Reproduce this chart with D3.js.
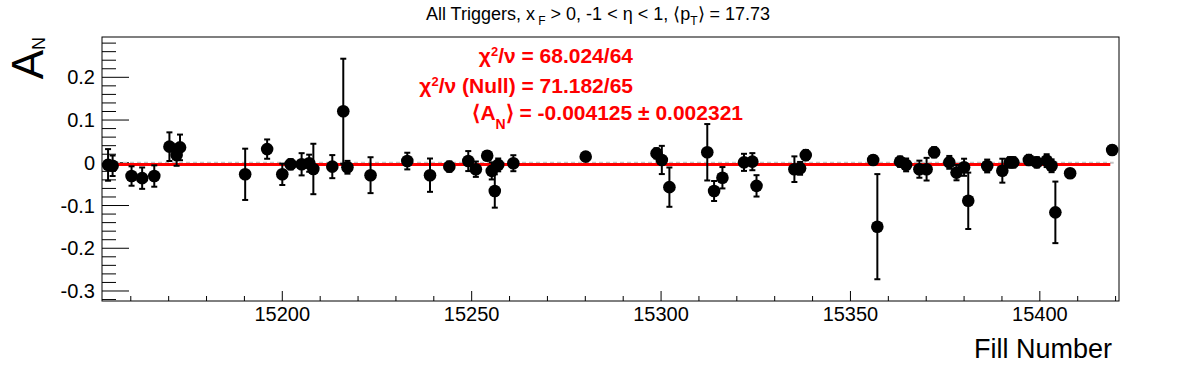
<!DOCTYPE html>
<html>
<head>
<meta charset="utf-8">
<script src="https://cdn.jsdelivr.net/npm/d3@7"></script>
<style>
  body { margin: 0; background: #fff; }
  text { font-family: "Liberation Sans", Arial, Helvetica, sans-serif; }
</style>
</head>
<body>
<div id="chart-area"></div>
<script>

// fill numbers, asymmetry values and their errors
var fills = [15154, 15155.2, 15160.2, 15163, 15166.2, 15170.2, 15172.1, 15173, 15190.2, 15196,
	15200, 15202.2, 15205.1, 15207.1, 15208.2, 15213.2, 15216.1, 15217.2, 15223.3, 15233,
	15239, 15244.1, 15249.1, 15251.1, 15254.1, 15255.3, 15256.1, 15257, 15261, 15280.1,
	15298.8, 15300.2, 15302.2, 15312.2, 15314, 15316.2, 15321.9, 15324.1, 15325.2, 15335.2,
	15336.7, 15338.2, 15356, 15357.1, 15363.1, 15364.7, 15368.2, 15370.1, 15372.1, 15376.1,
	15378, 15380, 15381.1, 15386.1, 15390.1, 15392.1, 15393, 15397.1, 15399.2, 15401.8,
	15403.1, 15404.1, 15408, 15419.1];

var asym = [-0.005, -0.007, -0.031, -0.036, -0.031, 0.0377, 0.018, 0.036, -0.027, 0.032,
	-0.027, -0.0035, -0.0035, -0.001, -0.0145, -0.009, 0.1205, -0.0105, -0.029, 0.004,
	-0.029, -0.009, 0.004, -0.015, 0.0166, -0.019, -0.066, -0.005, -0.001, 0.0143,
	0.022, 0.0066, -0.057, 0.0246, -0.066, -0.035, 0.001, 0.0026, -0.054, -0.015,
	-0.013, 0.018, 0.0066, -0.1495, 0.0026, -0.005, -0.015, -0.015, 0.0246, 0.001,
	-0.023, -0.0105, -0.089, -0.0075, -0.0185, 0.001, 0.001, 0.0066, 0.001, 0.005,
	-0.007, -0.116, -0.0246, 0.030];

var asymErr = [0.037, 0.024, 0.0227, 0.025, 0.025, 0.0335, 0.025, 0.03, 0.06, 0.0226,
	0.025, 0.012, 0.026, 0.02, 0.059, 0.027, 0.123, 0.015, 0.042, 0.0195,
	0.039, 0.012, 0.0234, 0.018, 0.01, 0.02, 0.039, 0.015, 0.0187, 0.01,
	0.012, 0.033, 0.046, 0.066, 0.0234, 0.025, 0.02, 0.02, 0.025, 0.03,
	0.015, 0.012, 0.01, 0.123, 0.012, 0.015, 0.02, 0.0265, 0.012, 0.015,
	0.018, 0.02, 0.066, 0.015, 0.028, 0.012, 0.012, 0.012, 0.012, 0.015,
	0.015, 0.072, 0.01, 0.01];

var xTicks = [15200, 15250, 15300, 15350, 15400];
var yTicks = [-0.3, -0.2, -0.1, 0, 0.1, 0.2];
var xDomain = [15152.4, 15420.9];
var yDomain = [-0.3234, 0.2943];

// constant fit
var fitValue = -0.004125;
var fitRange = [15155, 15418.6];

var data = fills.map(function(f, i) {
	return {fill: f, a: asym[i], err: asymErr[i]};
});

var margin = {left:102, right:77, top:37, bottom:71};

var width = 1196 - margin.left - margin.right,
	height = 372 - margin.top - margin.bottom;

var svg = d3.select("#chart-area")
	.append("svg")
		.attr("width", 1196)
		.attr("height", 372);

var g = svg.append("g")
	.attr("transform", "translate(" + margin.left + "," + margin.top + ")");

var x = d3.scaleLinear()
	.domain(xDomain)
	.range([0, width]);

var y = d3.scaleLinear()
	.domain(yDomain)
	.range([height, 0]);

// frame
g.append("rect")
	.attr("width", width)
	.attr("height", height)
	.attr("fill", "none")
	.attr("stroke", "#000")
	.attr("stroke-width", 1);

// minor ticks
var xMinor = d3.range(15160, 15421, 10);
var yMinor = d3.range(-32, 29, 2).map(function(v){ return v / 100; });

g.selectAll(".xminor")
	.data(xMinor)
	.enter()
	.append("line")
		.attr("x1", function(d){ return x(d); })
		.attr("x2", function(d){ return x(d); })
		.attr("y1", height)
		.attr("y2", function(d){ return xTicks.indexOf(d) >= 0 ? height - 10 : height - 5; })
		.attr("stroke", "#000");

g.selectAll(".yminor")
	.data(yMinor.filter(function(d){ return d >= yDomain[0] && d <= yDomain[1]; }))
	.enter()
	.append("line")
		.attr("x1", 0)
		.attr("x2", function(d){
			var major = yTicks.some(function(t){ return Math.abs(t - d) < 1e-9; });
			return major ? 27 : 14;
		})
		.attr("y1", function(d){ return y(d); })
		.attr("y2", function(d){ return y(d); })
		.attr("stroke", "#000");

// tick labels
g.selectAll(".xlab")
	.data(xTicks)
	.enter()
	.append("text")
		.attr("x", function(d){ return x(d); })
		.attr("y", height + 20)
		.attr("text-anchor", "middle")
		.attr("font-size", 20)
		.text(function(d){ return d; });

g.selectAll(".ylab")
	.data(yTicks)
	.enter()
	.append("text")
		.attr("x", -7)
		.attr("y", function(d){ return y(d) + 7; })
		.attr("text-anchor", "end")
		.attr("font-size", 20)
		.text(function(d){ return d === 0 ? "0" : d3.format(".1f")(d).replace("\u2212", "-"); });

// zero line and fit line
g.append("line")
	.attr("x1", x(xDomain[0]))
	.attr("x2", x(15419.5))
	.attr("y1", y(0))
	.attr("y2", y(0))
	.attr("stroke", "#c4c4c4")
	.attr("stroke-width", 2)
	.attr("stroke-dasharray", "4,3");

g.append("line")
	.attr("x1", x(fitRange[0]))
	.attr("x2", x(fitRange[1]))
	.attr("y1", y(fitValue))
	.attr("y2", y(fitValue))
	.attr("stroke", "#ff0000")
	.attr("stroke-width", 3);

// error bars
var pts = g.selectAll(".pt")
	.data(data)
	.enter()
	.append("g");

pts.append("line")
	.attr("x1", function(d){ return x(d.fill); })
	.attr("x2", function(d){ return x(d.fill); })
	.attr("y1", function(d){ return y(d.a - d.err); })
	.attr("y2", function(d){ return y(d.a + d.err); })
	.attr("stroke", "#000")
	.attr("stroke-width", 2);

[-1, 1].forEach(function(s) {
	pts.append("line")
		.attr("x1", function(d){ return x(d.fill) - 3; })
		.attr("x2", function(d){ return x(d.fill) + 3; })
		.attr("y1", function(d){ return y(d.a + s * d.err); })
		.attr("y2", function(d){ return y(d.a + s * d.err); })
		.attr("stroke", "#000")
		.attr("stroke-width", 2);
});

pts.append("circle")
	.attr("cx", function(d){ return x(d.fill); })
	.attr("cy", function(d){ return y(d.a); })
	.attr("r", 6.3)
	.attr("fill", "#000");

// title
var title = svg.append("text")
	.attr("x", 598)
	.attr("y", 20)
	.attr("text-anchor", "middle")
	.attr("font-size", 18);
title.append("tspan").text("All Triggers, x");
title.append("tspan").attr("dy", 5).attr("font-size", 12).text(" F");
title.append("tspan").attr("dy", -5).text(" > 0, -1 < \u03b7 < 1, \u27e8p");
title.append("tspan").attr("dy", 5).attr("font-size", 12).text("T");
title.append("tspan").attr("dy", -5).text("\u27e9 = 17.73");

// fit results
var stats = svg.append("g")
	.attr("fill", "#ff0000")
	.attr("font-weight", "bold")
	.attr("font-size", 21);

var chi = stats.append("text")
	.attr("x", 633).attr("y", 63)
	.attr("text-anchor", "end");
chi.append("tspan").text("\u03c7");
chi.append("tspan").attr("dy", -7).attr("font-size", 13).text("2");
chi.append("tspan").attr("dy", 7).text("/\u03bd = 68.024/64");

var chiNull = stats.append("text")
	.attr("x", 633).attr("y", 93)
	.attr("text-anchor", "end");
chiNull.append("tspan").text("\u03c7");
chiNull.append("tspan").attr("dy", -7).attr("font-size", 13).text("2");
chiNull.append("tspan").attr("dy", 7).text("/\u03bd (Null) = 71.182/65");

var mean = stats.append("text")
	.attr("x", 743).attr("y", 120)
	.attr("text-anchor", "end");
mean.append("tspan").text("\u27e8A");
mean.append("tspan").attr("dy", 9).attr("font-size", 14).text("N");
mean.append("tspan").attr("dy", -9).text("\u27e9 = -0.004125 \u00b1 0.002321");

// axis titles
svg.append("text")
	.attr("x", 1112)
	.attr("y", 358)
	.attr("text-anchor", "end")
	.attr("font-size", 27)
	.text("Fill Number");

var yTitle = svg.append("text")
	.attr("transform", "translate(43,37) rotate(-90)")
	.attr("text-anchor", "end")
	.attr("font-size", 44);
yTitle.append("tspan").text("A");
yTitle.append("tspan").attr("dy", 2).attr("font-size", 18).text("N");

</script>
</body>
</html>
